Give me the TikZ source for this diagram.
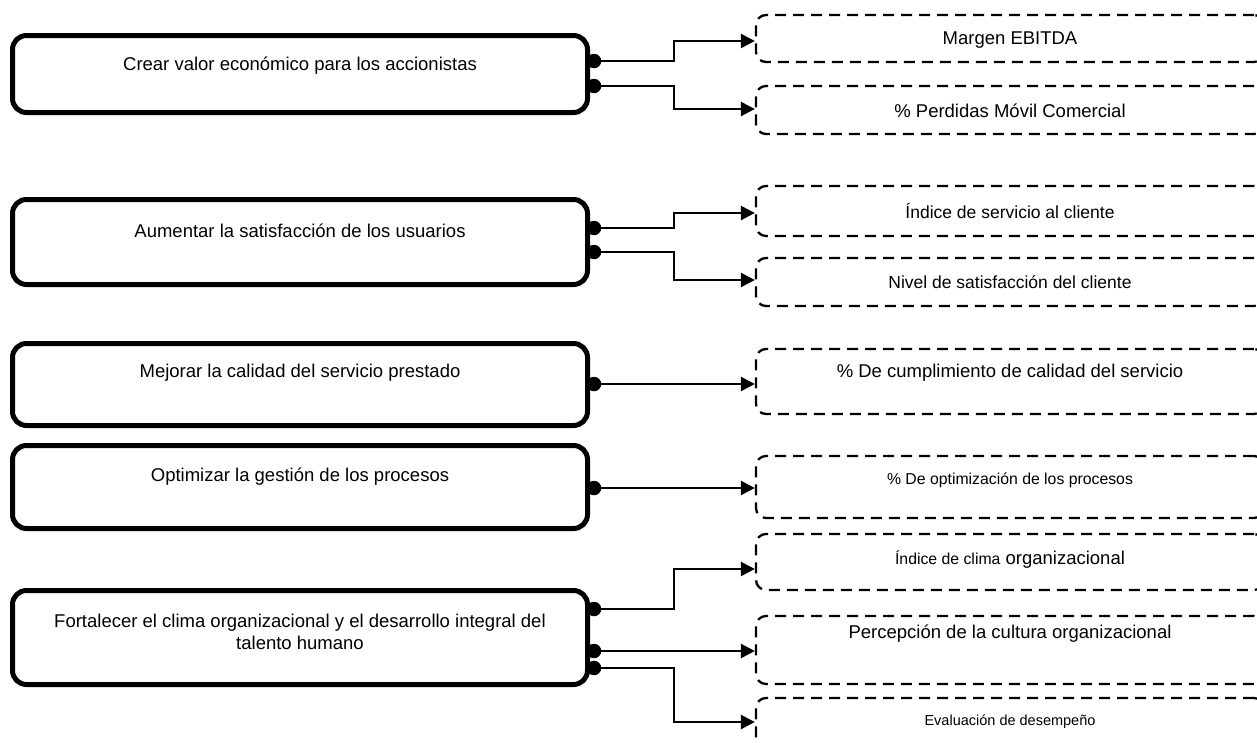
\documentclass[tikz,border=0pt]{standalone}
\usepackage{fontspec}
\setmainfont{Liberation Sans}
\usetikzlibrary{arrows.meta,calc}
\begin{document}
\begin{tikzpicture}[x=1pt,y=-1pt,
  goalbox/.style={draw, line width=5pt, rounded corners=14pt, minimum width=575pt, inner sep=0pt},
  kpibox/.style={draw, line width=2.3pt, rounded corners=10pt, dash pattern=on 11pt off 7pt, minimum width=508pt, inner sep=0pt},
  link/.style={line width=2.5pt, -{Triangle[length=14pt,width=14pt]}},
  dot/.style={circle, fill, inner sep=0pt, minimum size=14.5pt},
  lbl/.style={font=\fontsize{18.5}{22}\selectfont, align=center, inner sep=0pt},
  lblsmall/.style={font=\fontsize{15.8}{19}\selectfont, align=center, inner sep=0pt},
]
\useasboundingbox (0,0) rectangle (1257,742);
\clip (0,0) rectangle (1257,742);

% objectives
\node[goalbox, minimum height=77pt] (g1) at (300,74) {};
\node[goalbox, minimum height=85pt] (g2) at (300,242) {};
\node[goalbox, minimum height=82pt] (g3) at (300,384.5) {};
\node[goalbox, minimum height=83pt] (g4) at (300,487) {};
\node[goalbox, minimum height=94pt] (g5) at (300,637.5) {};

\node[lbl] (t1) at (300,66) {Crear valor económico para los accionistas};
\node[lbl] (t2) at (300,231) {Aumentar la satisfacción de los usuarios};
\node[lbl] (t3) at (300,373) {Mejorar la calidad del servicio prestado};
\node[lbl] (t4) at (300,477) {Optimizar la gestión de los procesos};
\node[lbl] (t5) at (300,632) {Fortalecer el clima organizacional y el desarrollo integral del\\talento humano};

% indicators
\node[kpibox, minimum height=47pt] (k1) at (1010,38.5) {};
\node[kpibox, minimum height=48pt] (k2) at (1010,110) {};
\node[kpibox, minimum height=50pt] (k3) at (1010,211) {};
\node[kpibox, minimum height=48pt] (k4) at (1010,282) {};
\node[kpibox, minimum height=65pt] (k5) at (1010,381.5) {};
\node[kpibox, minimum height=62pt] (k6) at (1010,487) {};
\node[kpibox, minimum height=56pt] (k7) at (1010,562) {};
\node[kpibox, minimum height=68pt] (k8) at (1010,650) {};
\node[kpibox, minimum height=62pt] (k9) at (1010,729) {};

\node[lbl] (s1) at (1010,40) {Margen EBITDA};
\node[lbl] (s2) at (1010,111) {\% Perdidas Móvil Comercial};
\node[lbl, font=\fontsize{17.5}{21}\selectfont] (s3) at (1010,211) {Índice de servicio al cliente};
\node[lbl, font=\fontsize{17.5}{21}\selectfont] (s4) at (1010,282) {Nivel de satisfacción del cliente};
\node[lbl] (s5) at (1010,373) {\% De cumplimiento de calidad del servicio};
\node[lblsmall] (s6) at (1010,480) {\% De optimización de los procesos};
\node[lbl] (s7) at (1010,560) {{\fontsize{15.8}{19}\selectfont Índice de clima} organizacional};
\node[lbl] (s8) at (1010,634) {Percepción de la cultura organizacional};
\node[lbl, font=\fontsize{14.5}{17}\selectfont] (s9) at (1010,722) {Evaluación de desempeño};

% connector origins
\node[dot] (p1a) at (594,61) {};
\node[dot] (p1b) at (594,86) {};
\node[dot] (p2a) at (594,228) {};
\node[dot] (p2b) at (594,252) {};
\node[dot] (p3) at (594,384) {};
\node[dot] (p4) at (594,488) {};
\node[dot] (p5a) at (594,609) {};
\node[dot] (p5b) at (594,651) {};
\node[dot] (p5c) at (594,668) {};

% connectors
\draw[link] (p1a.center) -- ++(80,0) |- ($(k1.west)+(0,2.5)$);
\draw[link] (p1b.center) -- ++(80,0) |- ($(k2.west)+(0,-1)$);
\draw[link] (p2a.center) -- ++(80,0) |- ($(k3.west)+(0,2)$);
\draw[link] (p2b.center) -- ++(80,0) |- ($(k4.west)+(0,-2)$);
\draw[link] (p3.center) -- ($(k5.west)+(0,2.5)$);
\draw[link] (p4.center) -- ($(k6.west)+(0,1)$);
\draw[link] (p5a.center) -- ++(80,0) |- ($(k7.west)+(0,7)$);
\draw[link] (p5b.center) -- ($(k8.west)+(0,1)$);
\draw[link] (p5c.center) -- ++(80,0) |- ($(k9.west)+(0,-7)$);
\end{tikzpicture}
\end{document}
